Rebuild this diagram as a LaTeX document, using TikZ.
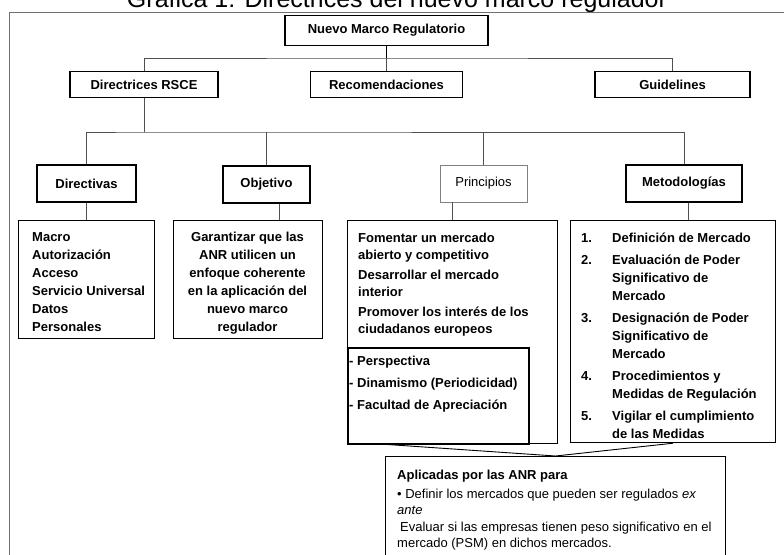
\documentclass[tikz,border=0pt]{standalone}
\usepackage{fontspec}
\setmainfont{Liberation Sans}
\definecolor{linkgray}{HTML}{505050}
\definecolor{framegray}{HTML}{707070}
\definecolor{softgray}{HTML}{808080}
\newcommand{\numlbl}[1]{\makebox[31pt][l]{#1}}
\tikzset{
  topbox/.style={draw, line width=1.4pt, inner sep=0pt, font=\bfseries\fontsize{13}{15}\selectfont},
  subbox/.style={draw, line width=1.2pt, inner sep=0pt, minimum height=37pt, font=\bfseries\fontsize{13}{15}\selectfont},
  listbox/.style={draw, line width=1.2pt, inner sep=0pt, anchor=north west},
  txtblock/.style={inner sep=0pt, anchor=north west, align=left, execute at begin node=\strut},
  link/.style={draw=linkgray, line width=0.9pt},
}
\begin{document}
\begin{tikzpicture}[x=1pt, y=-1pt]
    \useasboundingbox (0,0) rectangle (784,554);
    \clip (0,0) rectangle (784,554);

    % Title and frame
    \node[anchor=base, inner sep=0pt, font=\fontsize{25}{28}\selectfont] (title) at (397,8) {Grafica 1: Directrices del nuevo marco regulador};
    \draw[framegray, line width=1pt] (9,570) -- (9,12) -- (790,12);

    % Objects
    \node[topbox, minimum width=203pt, minimum height=30pt] (nuevo) at (386.5,30.5) {Nuevo Marco Regulatorio};
    \node[topbox, minimum width=148pt, minimum height=26pt] (rsce) at (144,84.5) {Directrices RSCE};
    \node[topbox, minimum width=152pt, minimum height=26pt] (recom) at (386.5,84.5) {Recomendaciones};
    \node[topbox, minimum width=155pt, minimum height=26pt] (guide) at (672.5,84.5) {Guidelines};

    \node[subbox, minimum width=99pt] (directivas) at (86.5,183.5) {Directivas};
    \node[subbox, minimum width=87pt] (objetivo) at (266.5,184.5) {Objetivo};
    \node[subbox, minimum width=87pt, draw=softgray, line width=0.9pt, font=\fontsize{13}{15}\selectfont] (principios) at (483.5,183.5) {Principios};
    \node[subbox, minimum width=116pt] (metodos) at (684,183.5) {Metodologías};

    \node[listbox, minimum width=136pt, minimum height=118pt] (dirlist) at (18,220) {};
    \node[listbox, minimum width=149pt, minimum height=118pt] (objtext) at (173,220) {};
    \node[listbox, minimum width=210pt, minimum height=223pt] (princbox) at (347,220) {};
    \node[listbox, minimum width=181pt, minimum height=96pt, line width=1.5pt] (perspbox) at (347,347) {};
    \node[listbox, minimum width=205pt, minimum height=222pt] (metodbox) at (570,220) {};
    \node[listbox, minimum width=340pt, minimum height=120pt, line width=1pt] (aplicadas) at (385,456) {};

    % Texts
    \node[txtblock, font=\bfseries\fontsize{13}{18}\selectfont] (dirtxt) at (32,232) {Macro\\Autorización\\Acceso\\Servicio Universal\\Datos\\Personales};
    \node[txtblock, anchor=north, align=center, font=\bfseries\fontsize{13}{18}\selectfont] (objtxt) at (247.5,232) {Garantizar que las\\ANR utilicen un\\enfoque coherente\\en la aplicación del\\nuevo marco\\regulador};
    \node[txtblock, font=\bfseries\fontsize{13}{17}\selectfont] (princtxt) at (358,232.6) {Fomentar un mercado\\abierto y competitivo\\[3pt]Desarrollar el mercado\\interior\\[3pt]Promover los interés de los\\ciudadanos europeos};
    \node[txtblock, font=\bfseries\fontsize{13}{22}\selectfont] (persptxt) at (349,356) {- Perspectiva\\- Dinamismo (Periodicidad)\\- Facultad de Apreciación};
    \node[txtblock, font=\bfseries\fontsize{13}{18}\selectfont] (metodtxt) at (581,233) {\numlbl{1.}Definición de Mercado\\[4pt]
      \numlbl{2.}Evaluación de Poder\\\numlbl{}Significativo de\\\numlbl{}Mercado\\[4pt]
      \numlbl{3.}Designación de Poder\\\numlbl{}Significativo de\\\numlbl{}Mercado\\[4pt]
      \numlbl{4.}Procedimientos y\\\numlbl{}Medidas de Regulación\\[4pt]
      \numlbl{5.}Vigilar el cumplimiento\\\numlbl{}de las Medidas};
    \node[anchor=base west, inner sep=0pt, font=\bfseries\fontsize{13}{15}\selectfont] (aplhead) at (397,479.5) {Aplicadas por las ANR para};
    \node[txtblock, font=\fontsize{13}{16.5}\selectfont] (apltxt) at (397,488.8) {• Definir los mercados que pueden ser regulados \textit{ex}\\\textit{ante}\\\hspace*{3pt}Evaluar si las empresas tienen peso significativo en el\\mercado (PSM) en dichos mercados.};

    % Links
    \coordinate (bus1) at (386.5,58);
    \coordinate (bus2) at (144,132);
    \draw[line width=1.4pt] (nuevo.south) -- (bus1);
    \draw[link] (bus1) -- (recom.north);
    \draw[link] (rsce.north) |- (bus1) -| (guide.north);
    \draw[link] (rsce.south) -- (bus2);
    \draw[link] (directivas.north) |- (bus2) -| (metodos.north);
    \draw[link] (objetivo.north) -- (objetivo.north |- bus2);
    \draw[link] (principios.north) -- (principios.north |- bus2);

    \path ([xshift=12.5pt]objetivo.south) coordinate (objfoot)
          ([xshift=-31.5pt]principios.south) coordinate (princfoot)
          ([xshift=4pt]metodos.south) coordinate (metodfoot)
          ([xshift=36pt]princbox.south west) coordinate (vleft);
    \draw[link] (directivas.south) -- (directivas.south |- dirlist.north);
    \draw[link] (objfoot) -- (objfoot |- objtext.north);
    \draw[link] (princfoot) -- (princfoot |- princbox.north);
    \draw[link] (metodfoot) -- (metodfoot |- metodbox.north);

    % Converging lines to the ANR box
    \draw[line width=0.9pt] (vleft) -- (aplicadas.north) -- (metodbox.south);
\end{tikzpicture}
\end{document}
